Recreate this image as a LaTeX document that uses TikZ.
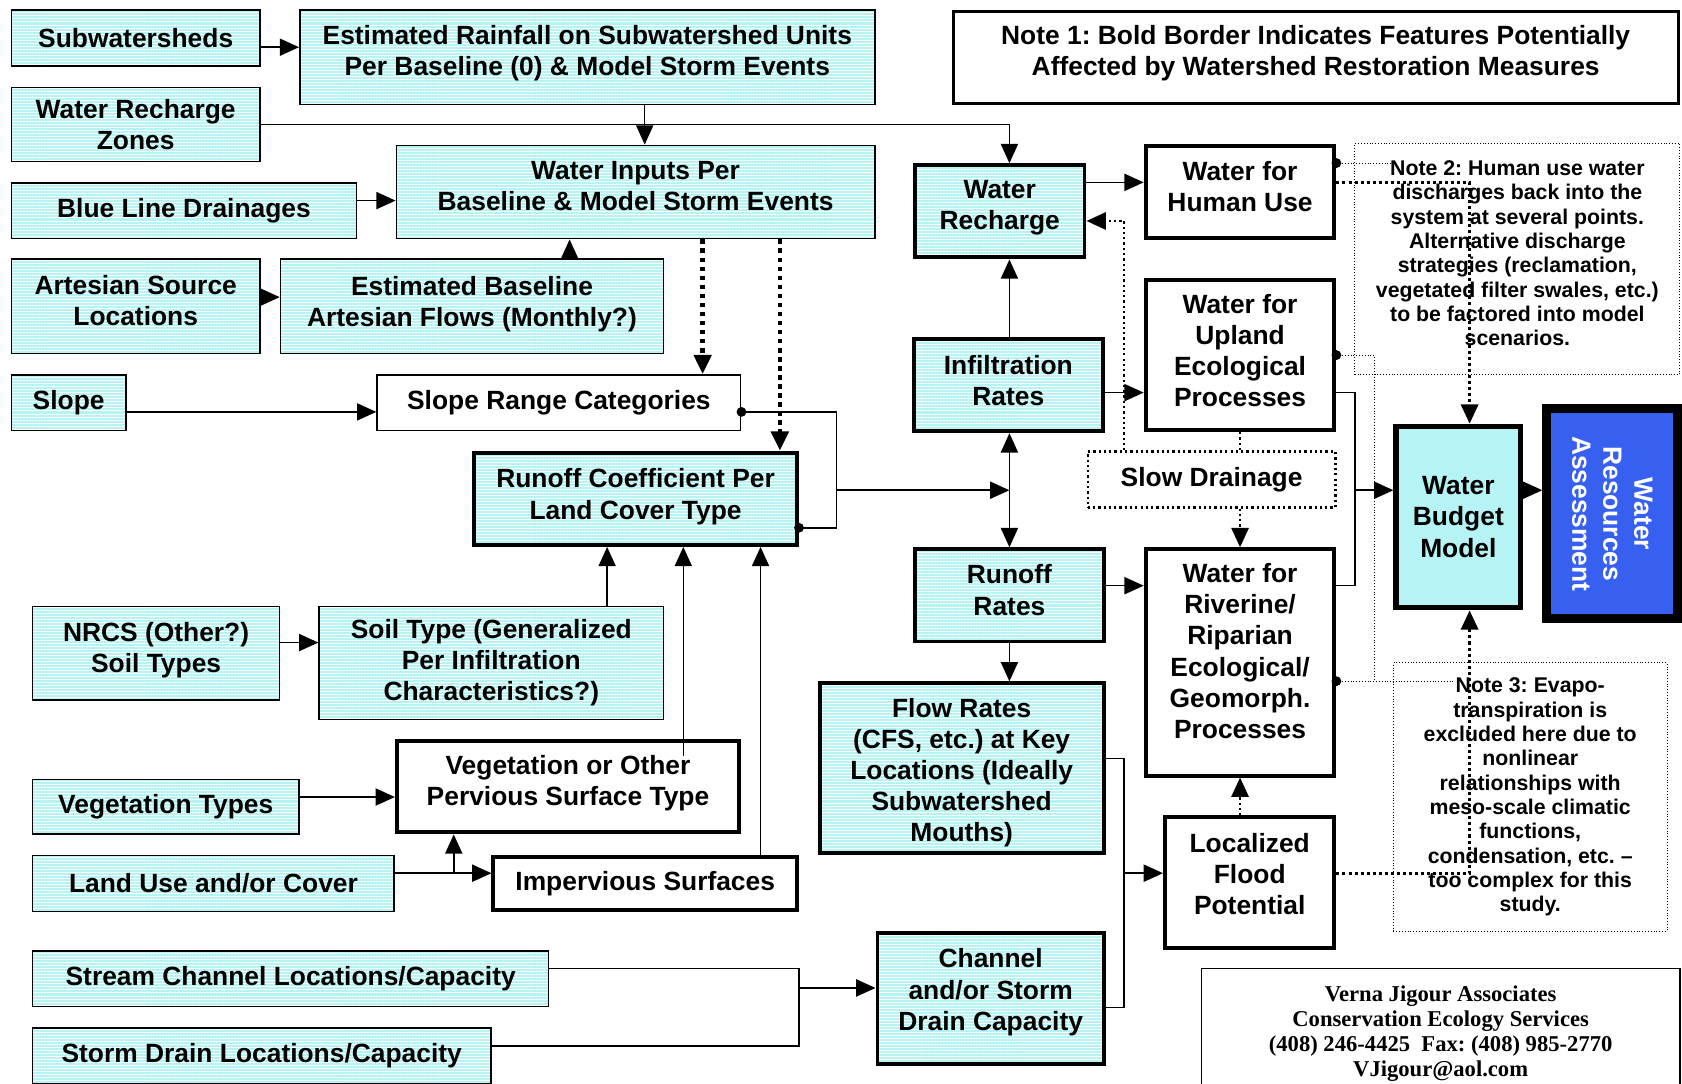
\documentclass[tikz,border=0pt]{standalone}
\usepackage{fontspec}
\setmainfont{Liberation Sans}
\newfontfamily\cardfont{Liberation Serif}
\usetikzlibrary{arrows.meta,patterns.meta}
\definecolor{boxcyan}{RGB}{182,243,244}
\definecolor{wrablue}{RGB}{56,96,240}
\frenchspacing

\begin{document}
\begin{tikzpicture}[x=0.02cm,y=-0.02cm,line width=0.8pt,
	>={Triangle[length=0.36cm,width=0.32cm]}]

% one pixel of the layout
\def\px{0.02cm}
% node style definition
\tikzstyle{base} = [rectangle, align=center, inner sep=0pt,
	font=\bfseries\fontsize{14}{16.5}\selectfont];
\tikzstyle{data} = [base, draw, line width=0.8pt, preaction={fill=boxcyan},
	pattern={Lines[angle=0,distance=1.6pt,line width=0.5pt]}, pattern color=white];
\tikzstyle{feat} = [data, line width=2.1pt];
\tikzstyle{plainbox} = [base, draw, fill=white, line width=0.8pt];
\tikzstyle{featbox} = [plainbox, line width=2.1pt];
\tikzstyle{note} = [base, draw, line width=0.5pt, dash pattern=on 0.5pt off 1pt,
	font=\bfseries\fontsize{11.3}{12.9}\selectfont];
% dotted links
\tikzstyle{thickdot} = [line width=2.4pt, dash pattern=on 2.4pt off 2.4pt];
\tikzstyle{heavydot} = [line width=1.6pt, dash pattern=on 1.6pt off 1.6pt];
\tikzstyle{meddot} = [line width=1.2pt, dash pattern=on 1.2pt off 1.6pt];
\tikzstyle{thindot} = [line width=0.5pt, dash pattern=on 0.5pt off 1pt];

\useasboundingbox (0,0) rectangle (1568,1010);

% input layers
\node[data, minimum width=232*\px, minimum height=52*\px] (subw) at (126.5,35.5) {Subwatersheds};
\node[data, minimum width=536*\px, minimum height=88*\px, text depth=7.5pt] (rain) at (547.5,53.5)
	{Estimated Rainfall on Subwatershed Units\\Per Baseline (0) \& Model Storm Events};
\node[data, minimum width=232*\px, minimum height=69*\px] (wrz) at (126.5,116) {Water Recharge\\Zones};
\node[data, minimum width=322*\px, minimum height=52*\px] (bld) at (171.5,196.5) {Blue Line Drainages};
\node[data, minimum width=446*\px, minimum height=87*\px, text depth=6.8pt] (winp) at (592.5,179)
	{Water Inputs Per\\Baseline \& Model Storm Events};
\node[data, minimum width=232*\px, minimum height=88*\px, text depth=5.7pt] (asl) at (126.5,285.5) {Artesian Source\\Locations};
\node[data, minimum width=357*\px, minimum height=88*\px, text depth=5.2pt] (ebl) at (440,285.5)
	{Estimated Baseline\\Artesian Flows (Monthly?)};
\node[data, minimum width=107*\px, minimum height=52*\px] (slope) at (64,375.5) {Slope};
\node[plainbox, minimum width=339*\px, minimum height=52*\px] (srange) at (521,375.5) {Slope Range Categories};
\node[feat, minimum width=301*\px, minimum height=86*\px, text depth=5.2pt] (rcoef) at (592.5,465)
	{Runoff Coefficient Per\\Land Cover Type};
\node[data, minimum width=230*\px, minimum height=87*\px, text depth=6.4pt] (nrcs) at (145.5,609) {NRCS (Other?)\\Soil Types};
\node[data, minimum width=321*\px, minimum height=105*\px] (soil) at (458,618)
	{Soil Type (Generalized\\Per Infiltration\\Characteristics?)};
\node[featbox, minimum width=319*\px, minimum height=85*\px, text depth=6.4pt] (vego) at (529.5,733.5)
	{Vegetation or Other\\Pervious Surface Type};
\node[data, minimum width=248*\px, minimum height=51*\px] (vegt) at (154.5,752) {Vegetation Types};
\node[data, minimum width=337*\px, minimum height=52*\px] (land) at (199,823.5) {Land Use and/or Cover};
\node[featbox, minimum width=283*\px, minimum height=49*\px] (imperv) at (601.5,823.5) {Impervious Surfaces};
\node[data, minimum width=481*\px, minimum height=52*\px] (strm) at (271,912.5) {Stream Channel Locations/Capacity};
\node[data, minimum width=427*\px, minimum height=52*\px] (stdr) at (244,984.5) {Storm Drain Locations/Capacity};

% rates and flows
\node[feat, minimum width=158*\px, minimum height=86*\px, text depth=6.4pt] (wrech) at (932,197) {Water\\Recharge};
\node[feat, minimum width=176*\px, minimum height=86*\px, text depth=5.1pt] (infil) at (940,359) {Infiltration\\Rates};
\node[feat, minimum width=176*\px, minimum height=86*\px, text depth=5.7pt] (rrate) at (941,555) {Runoff\\Rates};
\node[feat, minimum width=265*\px, minimum height=158*\px, text height=81.3pt] (flow) at (896.5,716)
	{Flow Rates\\(CFS, etc.) at Key\\Locations (Ideally\\Subwatershed\\Mouths)};
\node[feat, minimum width=211*\px, minimum height=122*\px, text depth=9.8pt] (chan) at (923.5,931)
	{Channel\\and/or Storm\\Drain Capacity};

% water uses
\node[featbox, minimum width=176*\px, minimum height=86*\px, text depth=6.3pt] (human) at (1156,179) {Water for\\Human Use};
\node[featbox, minimum width=176*\px, minimum height=140*\px, text depth=4.6pt] (upland) at (1156,331)
	{Water for\\Upland\\Ecological\\Processes};
\node[base, draw, meddot, minimum width=231*\px, minimum height=52*\px] (slow) at (1129.5,447) {Slow Drainage};
\node[featbox, minimum width=176*\px, minimum height=211*\px, text depth=12.2pt] (river) at (1156,617.5)
	{Water for\\Riverine/\\Riparian\\Ecological/\\Geomorph.\\Processes};
\node[featbox, minimum width=158*\px, minimum height=122*\px, text depth=9.1pt] (flood) at (1165,823)
	{Localized\\Flood\\Potential};

% model and notes
\node[base, draw, fill=boxcyan, line width=2.9pt, minimum width=116*\px, minimum height=169*\px] (budget)
	at (1359.5,482) {Water\\Budget\\Model};
\node[base, draw, fill=wrablue, text=white, line width=4.8pt, rotate=-90,
	minimum width=196*\px, minimum height=122*\px] (wra) at (1503,479) {Water\\Resources\\Assessment};
\node[plainbox, line width=1.6pt, minimum width=676*\px, minimum height=86*\px, text depth=7.5pt] (note1) at (1226.5,53.5)
	{Note 1: Bold Border Indicates Features Potentially\\Affected by Watershed Restoration Measures};
\node[note, minimum width=303*\px, minimum height=215*\px, text depth=6.3pt] (note2) at (1414.5,241.5)
	{Note 2: Human use water\\discharges back into the\\system at several points.\\Alternative discharge\\strategies (reclamation,\\vegetated filter swales, etc.)\\to be factored into model\\scenarios.};
\node[note, minimum width=255*\px, minimum height=250*\px] (note3) at (1426.5,743)
	{Note 3: Evapo-\\transpiration is\\excluded here due to\\nonlinear\\relationships with\\meso-scale climatic\\functions,\\condensation, etc. –\\too complex for this\\study.};
\node[plainbox, font=\cardfont\bfseries\fontsize{12}{13.2}\selectfont, text height=51.2pt,
	minimum width=446*\px, minimum height=116*\px] (card) at (1343,961)
	{Verna Jigour Associates\\Conservation Ecology Services\\(408) 246-4425\ \ Fax: (408) 985-2770\\VJigour@aol.com};

% junctions
\coordinate (cj) at (780,457);
\coordinate (ij) at (941,457);
\coordinate (bj) at (1263,457);
\coordinate (fj) at (1048,814);
\coordinate (sj) at (745,921);
\coordinate (lj) at (423,814);
\coordinate (n2) at (1297,152);
\coordinate (n3) at (1355,635);

% upper inputs
\draw[->] (subw.east |- 0,44) -- (rain.west |- 0,44);
\draw[->] (wrz.east) -| (wrech.north -| 941,0);
\draw[->] (rain.south -| 601,0) -- (winp.north -| 601,0);
\draw[->] (bld.east |- 0,187) -- (winp.west |- 0,187);
\draw[->] (asl.east |- 0,277) -- (ebl.west |- 0,277);
\draw[->] (ebl.north -| 531,0) -- (winp.south -| 531,0);
\draw[thickdot,->] (winp.south -| 655,0) -- (srange.north -| 655,0);
\draw[thickdot,->] (winp.south -| 727,0) -- (rcoef.north -| 727,0);
\draw[->] (slope.east |- 0,384) -- (srange.west |- 0,384);
\draw (srange.east |- 0,384) -| (780,492) -- (rcoef.east |- 0,492);
\fill (srange.east |- 0,384) circle (2.6pt) (rcoef.east |- 0,492) circle (2.6pt);
\draw[->] (cj) -- (ij);

% rates column
\draw[<->] (infil.south -| 941,0) -- (rrate.north -| 941,0);
\draw[->] (infil.north -| 941,0) -- (wrech.south -| 941,0);
\draw[->] (rrate.south -| 941,0) -- (flow.north -| 941,0);

% lower inputs
\draw[->] (soil.north -| 566,0) -- (rcoef.south -| 566,0);
\draw[->] ([yshift=-0.32cm]vego.north -| 637,0) -- (rcoef.south -| 637,0);
\draw[->] (imperv.north -| 709,0) -- (rcoef.south -| 709,0);
\draw[->] (nrcs.east |- 0,599) -- (soil.west |- 0,599);
\draw[->] (vegt.east |- 0,743) -- (vego.west |- 0,743);
\draw[->] (land.east |- 0,814) -- (imperv.west |- 0,814);
\draw[->] (lj) -- (vego.south -| lj);
\draw (strm.east |- 0,903) -| (745,975) -- (stdr.east |- 0,975);
\draw[->] (sj) -- (chan.west |- sj);

% water uses
\draw[->] (wrech.east |- 0,170) -- (human.west |- 0,170);
\draw[meddot,->] (slow.north -| 1048,0) |- (wrech.east |- 0,206);
\draw[->] (infil.east |- 0,366) -- (upland.west |- 0,366);
\draw[meddot] (upland.south) -- (upland.south |- slow.north);
\draw[meddot,->] (slow.south -| river.north) -- (river.north);
\draw[->] (rrate.east |- 0,546) -- (river.west |- 0,546);
\draw (flow.east |- 0,707) -| (1048,939) -- (chan.east |- 0,939);
\draw[->] (fj) -- (flood.west |- fj);
\draw[meddot,->] (flood.north -| river.south) -- (river.south);

% into the model
\draw (upland.east |- 0,366) -| (1263,546) -- (river.east |- 0,546);
\draw[->] (bj) -- (budget.west |- bj);
\draw[->] (budget.east |- bj) -- (wra.south |- bj);
\draw[heavydot,->] (human.east |- 0,170) -| (budget.north -| 1370,0);
\draw[heavydot,->] (flood.east |- fj) -| (budget.south -| 1370,0);
\draw[thindot] (human.east |- n2) -- (n2);
\draw[thindot] (upland.east |- 0,331) -| (1281,635);
\draw[thindot] (river.east |- n3) -- (n3);
\fill (human.east |- n2) circle (2.6pt) (upland.east |- 0,331) circle (2.6pt) (river.east |- n3) circle (2.6pt);

\end{tikzpicture}
\end{document}
